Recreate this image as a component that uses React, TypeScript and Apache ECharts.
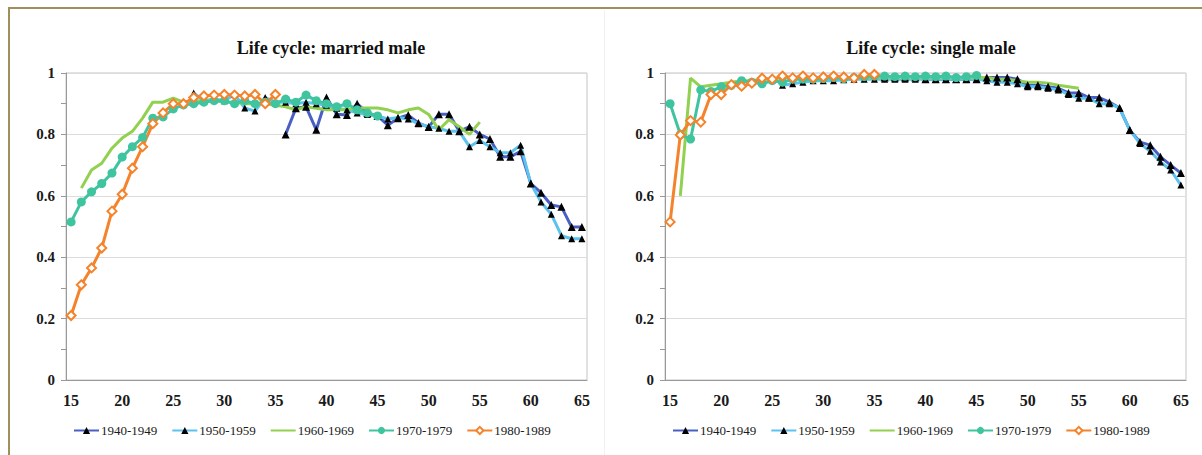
import React, { useEffect, useRef } from 'react'
import * as echarts from 'echarts'

// ages on the x axis
const ages = [
  '15', '16', '17', '18', '19', '20', '21', '22', '23', '24', '25', '26', '27', '28', '29', '30', '31',
  '32', '33', '34', '35', '36', '37', '38', '39', '40', '41', '42', '43', '44', '45', '46', '47', '48',
  '49', '50', '51', '52', '53', '54', '55', '56', '57', '58', '59', '60', '61', '62', '63', '64', '65'
]

const cohorts = ['1940-1949', '1950-1959', '1960-1969', '1970-1979', '1980-1989']

// married male, each list starts at the given age
const married1940Start = 36
const married1940 = [0.80, 0.885, 0.89, 0.815, 0.92, 0.866, 0.863, 0.90, 0.87, 0.86, 0.83, 0.853, 0.863, 0.837, 0.824,
  0.866, 0.866, 0.81, 0.825, 0.80, 0.785, 0.727, 0.727, 0.745, 0.64, 0.61, 0.57, 0.564, 0.498, 0.498]
const married1950Start = 27
const married1950 = [0.935, 0.91, 0.915, 0.91, 0.93, 0.886, 0.876, 0.92, 0.905, 0.905, 0.90, 0.905, 0.90, 0.895,
  0.885, 0.88, 0.87, 0.865, 0.86, 0.85, 0.855, 0.85, 0.835, 0.825, 0.82, 0.81, 0.81, 0.76, 0.78, 0.76, 0.74, 0.74,
  0.765, 0.64, 0.58, 0.54, 0.47, 0.46, 0.46]
const married1960Start = 16
const married1960 = [0.625, 0.684, 0.706, 0.755, 0.788, 0.81, 0.853, 0.905, 0.905, 0.918, 0.905, 0.91, 0.91, 0.91,
  0.905, 0.905, 0.90, 0.90, 0.90, 0.895, 0.89, 0.88, 0.89, 0.885, 0.88, 0.88, 0.88, 0.886, 0.886, 0.886, 0.88, 0.87,
  0.88, 0.886, 0.865, 0.815, 0.848, 0.825, 0.80, 0.84]
const married1970Start = 15
const married1970 = [0.515, 0.58, 0.613, 0.64, 0.674, 0.726, 0.76, 0.79, 0.853, 0.857, 0.883, 0.896, 0.90, 0.905,
  0.91, 0.91, 0.90, 0.91, 0.90, 0.905, 0.90, 0.915, 0.905, 0.928, 0.91, 0.90, 0.89, 0.90, 0.88, 0.87, 0.86]
const married1980Start = 15
const married1980 = [0.21, 0.31, 0.365, 0.43, 0.55, 0.605, 0.69, 0.76, 0.835, 0.87, 0.90, 0.90, 0.92, 0.925, 0.928,
  0.93, 0.928, 0.925, 0.93, 0.90, 0.93]

// single male
const single1940Start = 36
const single1940 = [0.985, 0.985, 0.985, 0.985, 0.98, 0.98, 0.98, 0.98, 0.98, 0.98, 0.985, 0.985, 0.985, 0.98,
  0.96, 0.96, 0.955, 0.95, 0.935, 0.935, 0.92, 0.92, 0.905, 0.886, 0.814, 0.775, 0.765, 0.727, 0.70, 0.674]
const single1950Start = 26
const single1950 = [0.96, 0.965, 0.97, 0.975, 0.975, 0.975, 0.978, 0.98, 0.98, 0.98, 0.98, 0.98, 0.98, 0.98, 0.98,
  0.98, 0.98, 0.98, 0.98, 0.98, 0.975, 0.97, 0.97, 0.965, 0.955, 0.955, 0.95, 0.945, 0.93, 0.918, 0.918, 0.90, 0.90,
  0.886, 0.814, 0.77, 0.745, 0.71, 0.684, 0.635]
const single1960Start = 16
const single1960 = [0.60, 0.983, 0.955, 0.96, 0.965, 0.97, 0.975, 0.975, 0.98, 0.98, 0.985, 0.985, 0.985, 0.985,
  0.985, 0.985, 0.985, 0.985, 0.985, 0.985, 0.985, 0.985, 0.985, 0.985, 0.985, 0.985, 0.985, 0.985, 0.985, 0.985,
  0.985, 0.98, 0.98, 0.975, 0.97, 0.97, 0.967, 0.96, 0.955, 0.95]
const single1970Start = 15
const single1970 = [0.90, 0.80, 0.785, 0.945, 0.94, 0.955, 0.96, 0.975, 0.97, 0.965, 0.975, 0.97, 0.98, 0.98, 0.98,
  0.982, 0.985, 0.982, 0.985, 0.988, 0.99, 0.99, 0.988, 0.99, 0.988, 0.99, 0.988, 0.99, 0.985, 0.988, 0.992]
const single1980Start = 15
const single1980 = [0.515, 0.798, 0.845, 0.84, 0.93, 0.93, 0.962, 0.957, 0.967, 0.983, 0.98, 0.99, 0.984, 0.99,
  0.984, 0.987, 0.99, 0.987, 0.984, 0.995, 0.995]

const serif = 'Liberation Serif, Times New Roman, serif'

const place = (start: number, values: number[]) =>
  ages.map((a) => {
    const i = Number(a) - start
    return i >= 0 && i < values.length ? values[i] : null
  })

const styles = [
  { line: '#4a5fc4', symbol: 'triangle', size: 8, item: { color: '#000' } },
  { line: '#5cc3ee', symbol: 'triangle', size: 7, item: { color: '#000' } },
  { line: '#92d050', symbol: 'none', size: 0, item: { color: '#92d050' } },
  { line: '#3fc4a0', symbol: 'circle', size: 9, item: { color: '#3fc4a0' } },
  { line: '#f5832b', symbol: 'diamond', size: 9, item: { color: '#fff', borderColor: '#f5832b', borderWidth: 2 } }
]

const makeSeries = (gridIndex: number, sets: (number | null)[][]) =>
  sets.map((d, i) => ({
    name: cohorts[i],
    type: 'line',
    xAxisIndex: gridIndex,
    yAxisIndex: gridIndex,
    data: d,
    symbol: styles[i].symbol,
    symbolSize: styles[i].size,
    showSymbol: styles[i].symbol !== 'none',
    showAllSymbol: true,
    lineStyle: { color: styles[i].line, width: 3 },
    itemStyle: styles[i].item,
    connectNulls: false
  }))

const App: React.FC = () => {
  const chartRef = useRef<HTMLDivElement>(null)

  useEffect(() => {
    if (!chartRef.current) return
    const chart = echarts.init(chartRef.current, undefined, { renderer: 'svg' })

    const xAxis = (gridIndex: number) => ({
      type: 'category',
      gridIndex,
      data: ages,
      boundaryGap: true,
      axisLine: { lineStyle: { color: '#999', width: 1 } },
      axisTick: { show: false },
      axisLabel: {
        interval: 4,
        margin: 12,
        color: '#1a1a1a',
        fontSize: 16,
        fontWeight: 'bold',
        fontFamily: serif
      },
      splitLine: { show: false }
    })

    const yAxis = (gridIndex: number) => ({
      type: 'value',
      gridIndex,
      min: 0,
      max: 1,
      interval: 0.2,
      axisLine: { show: true, lineStyle: { color: '#999', width: 1 } },
      axisTick: { show: true, length: 5, lineStyle: { color: '#999' } },
      minorTick: { show: true, splitNumber: 2, length: 5, lineStyle: { color: '#999' } },
      axisLabel: {
        margin: 11,
        color: '#1a1a1a',
        fontSize: 15,
        fontWeight: 'bold',
        fontFamily: serif
      },
      splitLine: { lineStyle: { color: '#dcdcdc', width: 1 } }
    })

    const legendData = cohorts.map((name, i) =>
      i === 2 ? { name, itemStyle: { opacity: 0 } } : { name }
    )

    const legend = (left: number) => ({
      data: legendData,
      left,
      top: 424,
      padding: 0,
      itemWidth: 25,
      itemHeight: 9,
      itemGap: 14,
      selectedMode: false,
      textStyle: { fontFamily: serif, fontSize: 13, color: '#1a1a1a', padding: [0, 0, 0, -3] }
    })

    const titleStyle = { fontFamily: serif, fontSize: 18, fontWeight: 'bold', color: '#111' }

    chart.setOption({
      animation: false,
      backgroundColor: 'transparent',
      title: [
        { text: 'Life cycle: married male', left: 326, top: 34, textAlign: 'center', textStyle: titleStyle },
        { text: 'Life cycle: single male', left: 926, top: 34, textAlign: 'center', textStyle: titleStyle }
      ],
      legend: [legend(73), legend(672)],
      grid: [
        { left: 66, top: 73, width: 521, height: 307, show: true, borderColor: '#c4c4c4', borderWidth: 1, backgroundColor: 'transparent' },
        { left: 665, top: 73, width: 521, height: 307, show: true, borderColor: '#c4c4c4', borderWidth: 1, backgroundColor: 'transparent' }
      ],
      xAxis: [xAxis(0), xAxis(1)],
      yAxis: [yAxis(0), yAxis(1)],
      series: [
        ...makeSeries(0, [
          place(married1940Start, married1940),
          place(married1950Start, married1950),
          place(married1960Start, married1960),
          place(married1970Start, married1970),
          place(married1980Start, married1980)
        ]),
        ...makeSeries(1, [
          place(single1940Start, single1940),
          place(single1950Start, single1950),
          place(single1960Start, single1960),
          place(single1970Start, single1970),
          place(single1980Start, single1980)
        ])
      ]
    })

    return () => {
      chart.dispose()
    }
  }, [])

  return (
    <div style={{ position: 'absolute', left: 0, top: 0, width: 1202, height: 455, overflow: 'hidden', background: '#fff' }}>
      <div
        style={{
          position: 'absolute',
          left: 8,
          top: 7,
          width: 1300,
          height: 600,
          borderTop: '2px solid #a08f5c',
          borderLeft: '2px solid #a08f5c'
        }}
      />
      <div style={{ position: 'absolute', left: 604, top: 10, width: 1, height: 445, background: '#f1f1f1' }} />
      <div ref={chartRef} style={{ position: 'absolute', left: 0, top: 0, width: 1202, height: 455 }} />
    </div>
  )
}

export default App
